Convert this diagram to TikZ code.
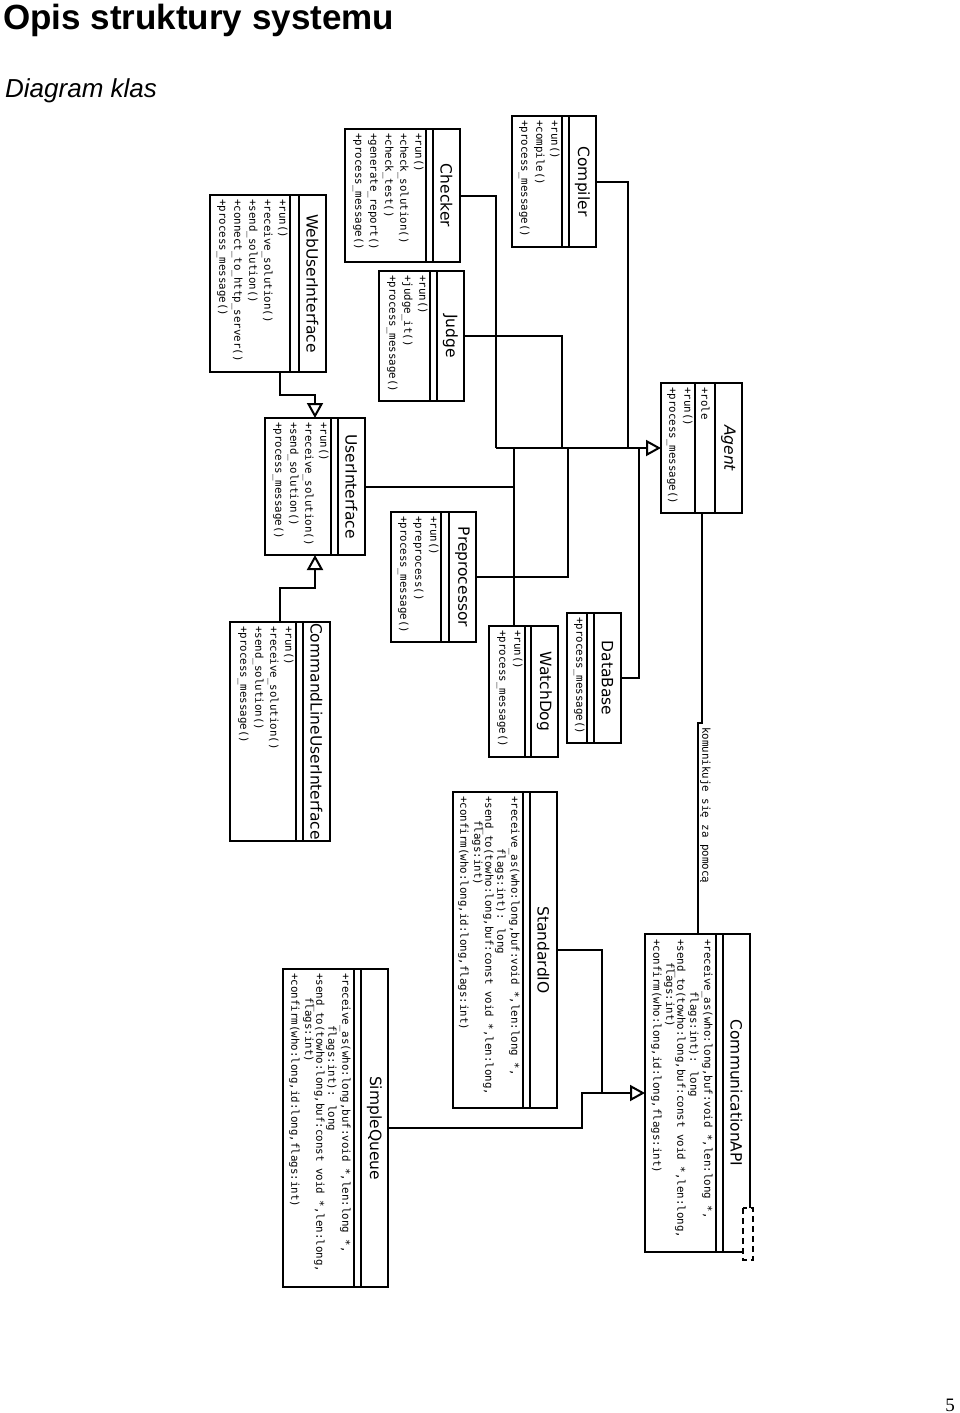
\documentclass[tikz,border=0pt]{standalone}
\usepackage{fontspec}
\setmainfont{Liberation Sans}
\newfontfamily\monof{DejaVu Sans Mono}
\newfontfamily\namef{DejaVu Sans}
\newfontfamily\serf{Liberation Serif}
\usetikzlibrary{arrows.meta,calc}

\tikzset{
  classbox/.style={line width=2pt, inner sep=0pt, outer sep=0pt, anchor=north west},
  sepline/.style={line width=2pt},
  meth/.style={font=\monof\fontsize{10.8}{13}\selectfont, rotate=-90, anchor=mid west, inner sep=0pt},
  cname/.style={font=\namef\fontsize{15.5}{18}\selectfont, rotate=-90, anchor=center, inner sep=0pt},
  conn/.style={line width=2pt},
  gen/.style={line width=2pt, -{Triangle[open, length=15pt, width=16pt]}},
  lbl/.style={font=\monof\fontsize{10.8}{13}\selectfont, rotate=-90, anchor=mid west, inner sep=0pt},
}

% id, left, top, right, bottom, attr-line x, title
\newcommand{\umlframe}[7]{%
  \node[classbox, draw, minimum width={(#4-#2)*1pt}, minimum height={(#5-#3)*1pt}] (#1) at (#2,#3) {};
  \draw[sepline] ({#4-27},#3) -- ({#4-27},#5);
  \draw[sepline] (#6,#3) -- (#6,#5);
  \node[cname] (#1-t) at ({#4-13.5},{(#3+#5)/2}) {#7};
}
% id, left, top, right, bottom, attr-line x, title, methods
\newcommand{\umlclass}[8]{%
  \umlframe{#1}{#2}{#3}{#4}{#5}{#6}{#7}
  \foreach \m [count=\i from 0] in {#8} {
    \node[meth] (#1-m\i) at ({#6-8-15*\i},{#3+4}) {\m};
  }
}

\begin{document}
\begin{tikzpicture}[x=1pt,y=-1pt]
\fill[white] (0,0) rectangle (960,1413);
\useasboundingbox (0,0) rectangle (960,1413);

% headings
\node[font=\bfseries\fontsize{35}{40}\selectfont, anchor=base west, inner sep=0pt] (title) at (3,30) {Opis struktury systemu};
\node[font=\itshape\fontsize{26}{30}\selectfont, anchor=base west, inner sep=0pt] (subtitle) at (5,97) {Diagram klas};
\node[font=\serf\fontsize{19}{22}\selectfont, anchor=base east, inner sep=0pt] (pagenum) at (955,1411) {5};

% classes
\umlclass{compiler}{512}{116}{596}{247}{562}{Compiler}{+run(),+compile(),+process\_message()}
\umlclass{checker}{345}{129}{460}{262}{426}{Checker}{+run(),+check\_solution(),+check\_test(),+generate\_report(),+process\_message()}
\umlclass{judge}{379}{271}{464}{401}{430}{Judge}{+run(),+judge\_it(),+process\_message()}
\umlclass{webui}{210}{195}{326}{372}{290}{WebUserInterface}{+run(),+receive\_solution(),+send\_solution(),+connect\_to\_http\_server(),+process\_message()}
\umlclass{ui}{265}{418}{365}{555}{331}{UserInterface}{+run(),+receive\_solution(),+send\_solution(),+process\_message()}
\umlclass{clui}{230}{622}{330}{841}{296}{CommandLineUserInterface}{+run(),+receive\_solution(),+send\_solution(),+process\_message()}
\umlclass{pre}{391}{512}{476}{642}{441}{Preprocessor}{+run(),+preprocess(),+process\_message()}
\umlclass{wd}{489}{626}{558}{757}{525}{WatchDog}{+run(),+process\_message()}
\umlclass{db}{567}{613}{621}{743}{587}{DataBase}{+process\_message()}
\umlclass{agent}{661}{383}{742}{513}{695}{\itshape Agent}{+run(),+process\_message()}
\node[meth] (agent-a0) at (704,387) {+role};

% StandardIO
\umlframe{stdio}{453}{792}{557}{1108}{523}{StandardIO}
\node[meth] (stdio-m0) at (514,796) {+receive\_as(who:long,buf:void *,len:long *,};
\node[meth] (stdio-m1) at (500,848) {flags:int): long};
\node[meth] (stdio-m2) at (488,796) {+send\_to(towho:long,buf:const void *,len:long,};
\node[meth] (stdio-m3) at (477,820) {flags:int)};
\node[meth] (stdio-m4) at (463,796) {+confirm(who:long,id:long,flags:int)};

% SimpleQueue
\umlframe{sq}{283}{969}{388}{1287}{354}{SimpleQueue}
\node[meth] (sq-m0) at (345,973) {+receive\_as(who:long,buf:void *,len:long *,};
\node[meth] (sq-m1) at (331,1025) {flags:int): long};
\node[meth] (sq-m2) at (319,973) {+send\_to(towho:long,buf:const void *,len:long,};
\node[meth] (sq-m3) at (308,997) {flags:int)};
\node[meth] (sq-m4) at (294,973) {+confirm(who:long,id:long,flags:int)};

% CommunicationAPI (with template corner)
\node[classbox, minimum width=105pt, minimum height=318pt] (api) at (645,934) {};
\draw[sepline] ([yshift=-274pt]api.north east) -- (api.north east) -- (api.north west) -- (api.south west) -- ([xshift=-7pt]api.south east);
\draw[sepline] (723,934) -- (723,1252);
\draw[sepline] (716,934) -- (716,1252);
\draw[line width=2.2pt, dash pattern=on 6pt off 4pt] (743,1208) rectangle (753,1260);
\node[cname] (api-t) at (736.5,1093) {CommunicationAPI};
\node[meth] (api-m0) at (707,939) {+receive\_as(who:long,buf:void *,len:long *,};
\node[meth] (api-m1) at (693,991) {flags:int): long};
\node[meth] (api-m2) at (680,939) {+send\_to(towho:long,buf:const void *,len:long,};
\node[meth] (api-m3) at (669,962) {flags:int)};
\node[meth] (api-m4) at (656,939) {+confirm(who:long,id:long,flags:int)};

% junctions of generalisation tree into Agent
\coordinate (jChk) at (496,448);
\coordinate (jWD) at (514,448);
\coordinate (jJud) at (562,448);
\coordinate (jPre) at (568,448);
\coordinate (jCmp) at (628,448);
\coordinate (jDB) at (639,448);

\draw[gen] (jChk) -- (agent.west);
\draw[conn] (checker.east) -| (jChk);
\draw[conn] (judge.east) -| (jJud);
\draw[conn] (compiler.east) -| (jCmp);
\draw[conn] ([xshift=-9.5pt]wd.north) -- (jWD);
\draw[conn] (ui.east) -- (ui.east -| jWD);
\draw[conn] (pre.east) -| (jPre);
\draw[conn] (db.east) -| (jDB);

% UserInterface hierarchy
\draw[gen] ([xshift=12pt]webui.south) -- ++(0,23) -| (ui.north);
\draw[gen] (clui.north) -- ++(0,-34) -| (ui.south);

% CommunicationAPI hierarchy
\coordinate (jStd) at (602,1093);
\coordinate (jSq) at (582,1093);
\draw[gen] (stdio.east) -| (jStd) -- (api.west);
\draw[conn] (sq.east) -| (jSq) -- (jStd);

% association Agent -> CommunicationAPI
\draw[conn] (agent.south) -- ++(0,210) -| (api.north);
\node[lbl] (assoc) at (705,727) {komunikuje się za pomocą};
\end{tikzpicture}
\end{document}
